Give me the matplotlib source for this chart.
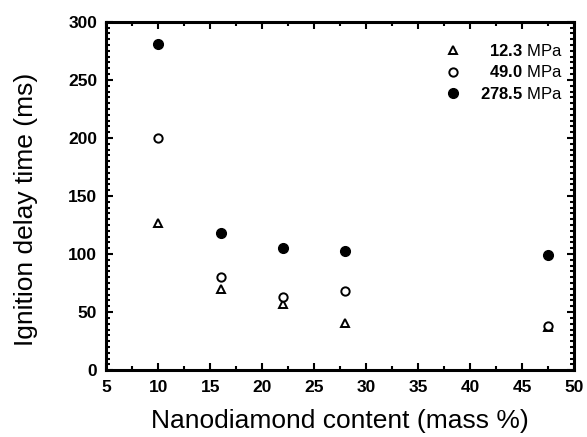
import matplotlib.pyplot as plt
from matplotlib.ticker import MultipleLocator

plt.rcParams['font.family'] = ['Liberation Sans', 'DejaVu Sans']
plt.rcParams['mathtext.fontset'] = 'custom'
plt.rcParams['mathtext.rm'] = 'Liberation Sans'
plt.rcParams['mathtext.it'] = 'Liberation Sans:italic'
plt.rcParams['mathtext.bf'] = 'Liberation Sans:bold'

# nanodiamond content (mass %)
content = [10, 16, 22, 28, 47.5]
# ignition delay time (ms) at three pressures
delay_12 = [127, 70, 57, 41, 37]
delay_49 = [200, 80, 63, 68, 38]
delay_278 = [281, 118, 105, 103, 99]
pressures = ['12.3', '49.0', '278.5']


def press_label(p):
    # pad shorter numbers so the labels line up on the right
    pad = (len(pressures[2]) - len(p)) * 0.667
    return r'$\bf{\hspace{' + f'{pad:.3f}' + '}' + p + '}$ MPa'


fig = plt.figure(figsize=(5.87, 4.37), dpi=100)
ax = fig.add_axes([0.181, 0.153, 0.797, 0.797])

ax.plot(content, delay_12, ls='none', marker='^', ms=6, mfc='white', mec='black',
        mew=1.4, label=press_label(pressures[0]))
ax.plot(content, delay_49, ls='none', marker='o', ms=6, mfc='white', mec='black',
        mew=1.4, label=press_label(pressures[1]))
ax.plot(content, delay_278, ls='none', marker='o', ms=7, mfc='black', mec='black',
        label=press_label(pressures[2]))

ax.set_xlim(5, 50)
ax.set_ylim(0, 300)
ax.xaxis.set_major_locator(MultipleLocator(5))
ax.xaxis.set_minor_locator(MultipleLocator(2.5))
ax.yaxis.set_major_locator(MultipleLocator(50))
ax.yaxis.set_minor_locator(MultipleLocator(5))
ax.tick_params(which='both', direction='in', top=True, right=True, width=1.5)
ax.tick_params(which='major', length=5, labelsize=12.5)
ax.tick_params(which='minor', length=3)
ax.tick_params(axis='x', which='major', pad=7)
ax.tick_params(axis='y', which='major', pad=6.5)
for lab in ax.get_xticklabels() + ax.get_yticklabels():
    lab.set_fontweight('bold')
for s in ax.spines.values():
    s.set_linewidth(2.2)

ax.set_xlabel('Nanodiamond content (mass %)', fontsize=19, labelpad=10)
ax.set_ylabel('Ignition delay time (ms)', fontsize=19, labelpad=22, y=0.463)

ax.legend(loc='upper right', bbox_to_anchor=(1.0, 0.974), frameon=False,
          fontsize=12, handletextpad=1.0, borderaxespad=0.3,
          labelspacing=0.35, handlelength=1.2)

fig.savefig('out.png', dpi=100)
